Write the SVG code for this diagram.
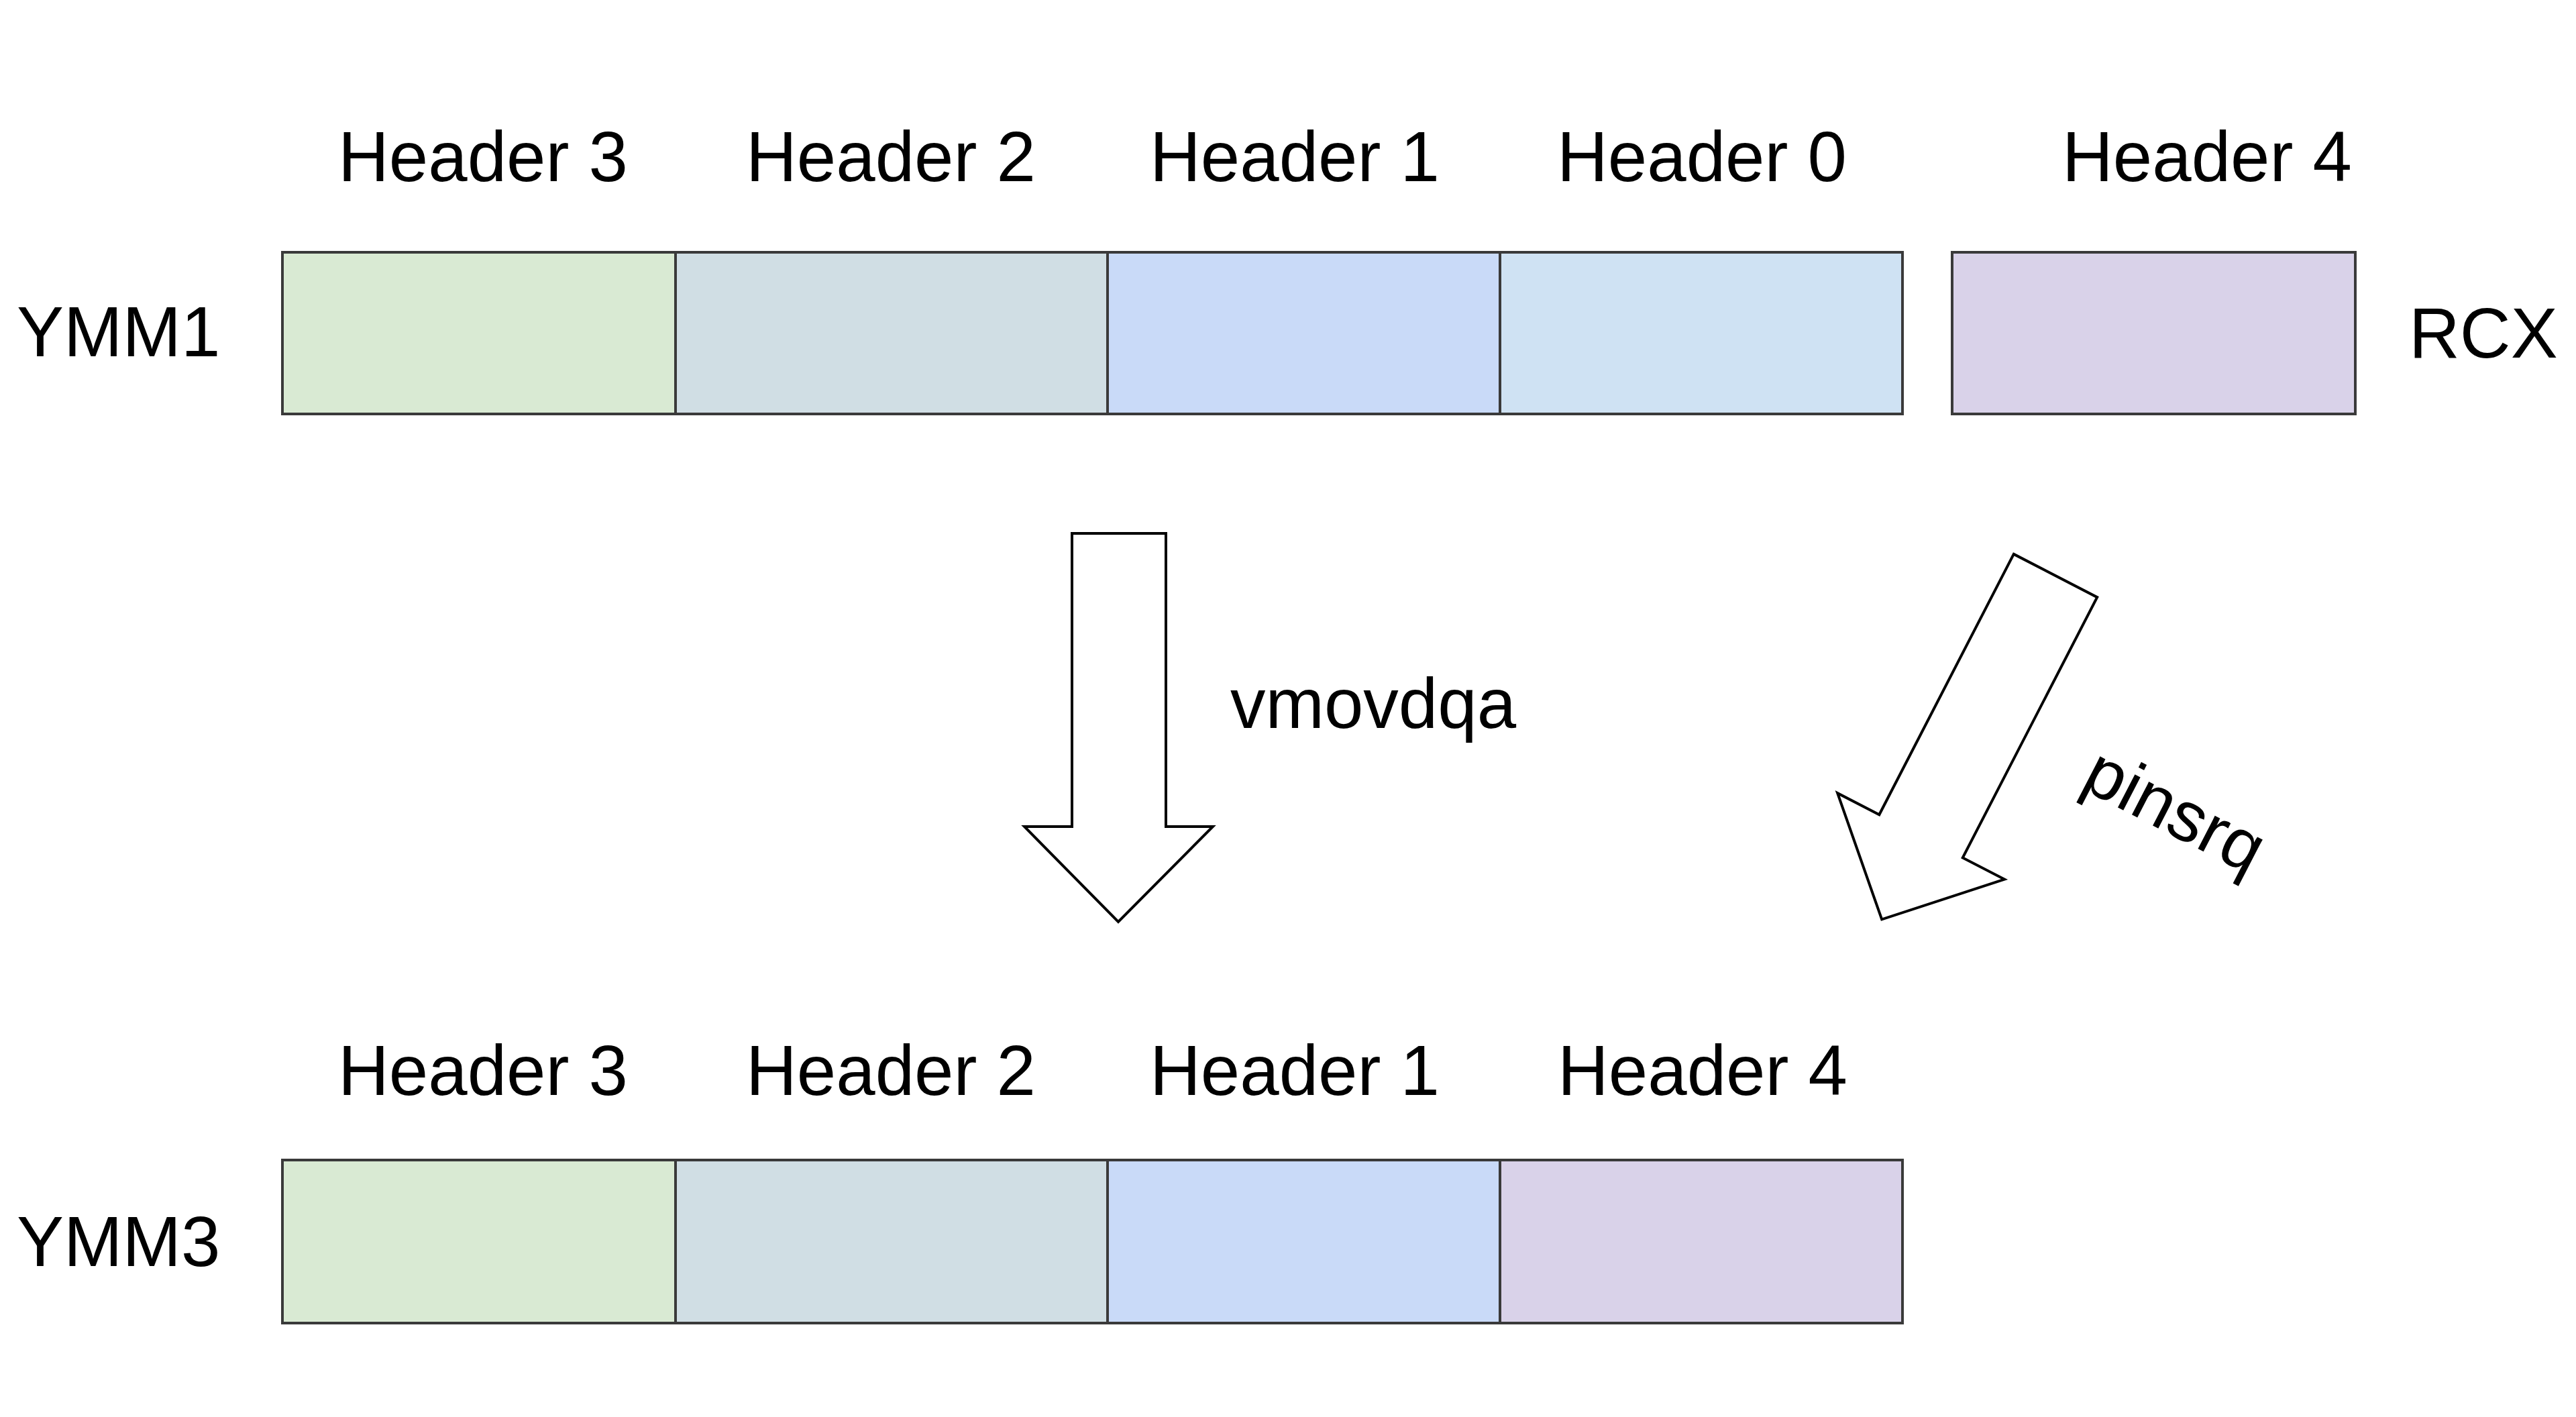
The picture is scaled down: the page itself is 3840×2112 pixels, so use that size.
<svg xmlns="http://www.w3.org/2000/svg" width="3840" height="2112" viewBox="0 0 3840 2112">
  <style>
    .lbl { font-family: "Liberation Sans", Arial, sans-serif; font-size: 105px; fill: #000; }
    .hdr { text-anchor: middle; }
    .cell { stroke: #3a3a3a; stroke-width: 4; }
    .arrow { fill: #ffffff; stroke: #000; stroke-width: 4; stroke-linejoin: miter; }
    .g { fill: #d9ead3; }
    .c { fill: #d0dee4; }
    .b1 { fill: #c9daf8; }
    .b0 { fill: #cfe2f3; }
    .p { fill: #d9d2e9; }
  </style>
  <rect x="0" y="0" width="3840" height="2112" fill="#ffffff"/>

  <g id="ymm1">
    <text class="lbl" x="25" y="531">YMM1</text>
    <rect class="cell g" x="421" y="376" width="586" height="241"/>
    <rect class="cell c" x="1007" y="376" width="644" height="241"/>
    <rect class="cell b1" x="1651" y="376" width="585" height="241"/>
    <rect class="cell b0" x="2236" y="376" width="600" height="241"/>
    <text class="lbl hdr" x="720" y="270">Header 3</text>
    <text class="lbl hdr" x="1328" y="270">Header 2</text>
    <text class="lbl hdr" x="1930" y="270">Header 1</text>
    <text class="lbl hdr" x="2537" y="270">Header 0</text>
  </g>

  <g id="rcx">
    <rect class="cell p" x="2910" y="376" width="601" height="241"/>
    <text class="lbl hdr" x="3290" y="270">Header 4</text>
    <text class="lbl" x="3591" y="533">RCX</text>
  </g>

  <g id="ymm3">
    <text class="lbl" x="25" y="1887">YMM3</text>
    <rect class="cell g" x="421" y="1729" width="586" height="243"/>
    <rect class="cell c" x="1007" y="1729" width="644" height="243"/>
    <rect class="cell b1" x="1651" y="1729" width="585" height="243"/>
    <rect class="cell p" x="2236" y="1729" width="600" height="243"/>
    <text class="lbl hdr" x="720" y="1632">Header 3</text>
    <text class="lbl hdr" x="1328" y="1632">Header 2</text>
    <text class="lbl hdr" x="1930" y="1632">Header 1</text>
    <text class="lbl hdr" x="2538" y="1632">Header 4</text>
  </g>

  <g id="connectors">
    <g id="vmovdqa">
      <polygon class="arrow" points="1598,795 1738,795 1738,1232 1808,1232 1667,1374 1527,1232 1598,1232"/>
      <text class="lbl" x="1834" y="1085">vmovdqa</text>
    </g>
    <g id="pinsrq">
      <polygon class="arrow" transform="translate(3064,858) rotate(27.3)" points="-70,0 70,0 70,437 140,437 5,574 -140,437 -70,437"/>
      <text class="lbl hdr" transform="translate(3226,1239) rotate(27.3)" x="0" y="0">pinsrq</text>
    </g>
  </g>
</svg>
